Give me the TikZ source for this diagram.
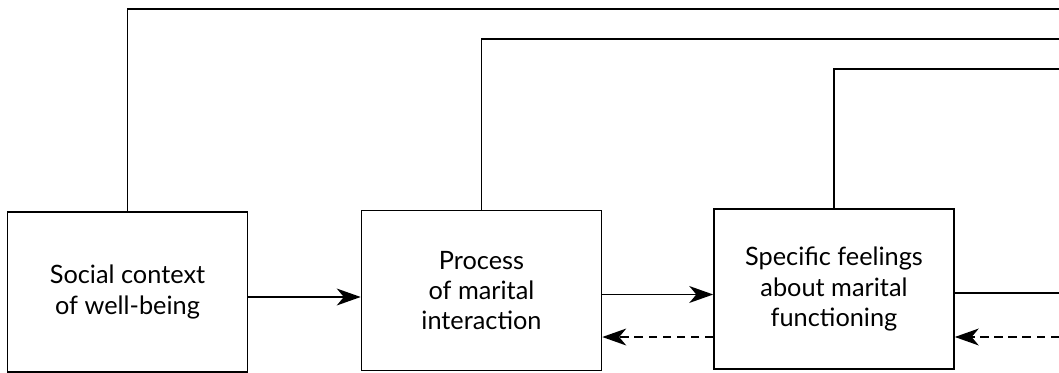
\documentclass[tikz,border=0pt]{standalone}
\usepackage{fontspec}
\setmainfont{Lato}
\usepackage{tikz}
\usetikzlibrary{arrows.meta, positioning}
\tikzset{
    box/.style={rectangle, draw, line width=1.1pt, minimum width=6cm, minimum height=4cm, text centered, align=center, font=\fontsize{18}{21.5}\selectfont},
    flow/.style={-{Stealth[length=17pt, width=12pt, inset=5pt]}, line width=1.1pt},
    feedback/.style={-{Stealth[length=17pt, width=12pt, inset=5pt]}, line width=1.1pt, dash pattern=on 6pt off 4pt},
    link/.style={line width=1.1pt}
}
\begin{document}
\begin{tikzpicture}[x=0.025cm, y=-0.025cm]
    \useasboundingbox (0,0) rectangle (1059,373);
    % Boxes
    \node[box] (context) at (127.5,292) {Social context\\of well-being};
    \node[box] (process) at (481.5,290.5) {Process\\of marital\\interaction};
    \node[box] (feelings) at (834,289) {Specific feelings\\about marital\\functioning};

    % Free ends at the right edge
    \coordinate (top1) at (1059,9);
    \coordinate (top2) at (1059,39);
    \coordinate (top3) at (1059,69);
    \coordinate (out) at (1059,293);
    \coordinate (back) at (1059,337);

    % Forward arrows
    \draw[flow] ([yshift=-0.125cm]context.east) -- ([yshift=-0.125cm]context.east -| process.west);
    \draw[flow] ([yshift=-0.1cm]process.east) -- ([yshift=-0.1cm]process.east -| feelings.west);
    \draw[link] (feelings.east |- out) -- (out);

    % Feedback arrows
    \draw[feedback] ([yshift=-1.2cm]feelings.west) -- ([yshift=-1.2cm]feelings.west -| process.east);
    \draw[feedback] (back) -- (feelings.east |- back);

    % Lines over the top
    \draw[link] (context.north) |- (top1);
    \draw[link] (process.north) |- (top2);
    \draw[link] (feelings.north) |- (top3);
\end{tikzpicture}
\end{document}
